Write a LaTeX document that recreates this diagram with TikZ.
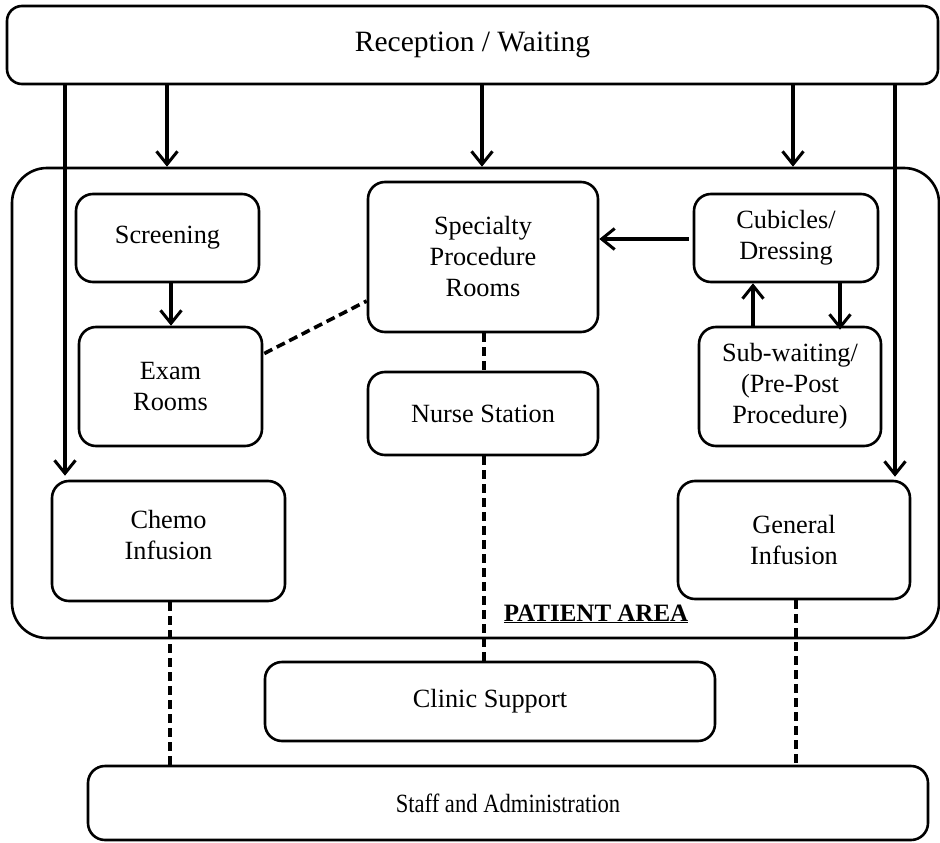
\documentclass[tikz,border=0pt]{standalone}
\usepackage{fontspec}
\setmainfont{Liberation Serif}
\usepackage{graphicx}
\usetikzlibrary{arrows.meta,calc}
\tikzset{
  box/.style={draw, line width=2.6pt, rounded corners=17pt, align=center, inner sep=0pt,
    font=\fontsize{26.3}{31}\selectfont},
  arr/.style={line width=3.4pt, -{Straight Barb[length=13pt,width=21pt,line width=3pt]}},
  dsh/.style={line width=3.6pt, dash pattern=on 9pt off 5pt},
}
\begin{document}
\begin{tikzpicture}[x=1pt,y=-1pt]
\useasboundingbox (0,0) rectangle (940,843);
\fill[white] (0,0) rectangle (940,843);
% big patient area
\node[box, rounded corners=35pt, minimum width=927pt, minimum height=470pt] (pa) at (475.5,403) {};
\node[font=\fontsize{25}{28}\selectfont\bfseries] (palabel) at (596,614) {\underline{PATIENT AREA}};
% boxes
\node[box, rounded corners=15pt, minimum width=931pt, minimum height=78pt, font=\fontsize{29.5}{31}\selectfont] (rec) at (472.5,45) {Reception / Waiting};
\node[box, minimum width=183pt, minimum height=88pt] (scr) at (167.5,238) {Screening};
\node[box, minimum width=183pt, minimum height=119pt] (exam) at (170.5,386.5) {Exam\\Rooms};
\node[box, minimum width=230pt, minimum height=150pt] (spec) at (483,257) {Specialty\\Procedure\\Rooms};
\node[box, minimum width=230pt, minimum height=83pt] (nurse) at (483,413.5) {Nurse Station};
\node[box, minimum width=184pt, minimum height=88pt] (cub) at (786,238) {Cubicles/\\Dressing};
\node[box, minimum width=182pt, minimum height=119pt] (sub) at (790,386.5) {Sub-waiting/\\(Pre-Post\\Procedure)};
\node[box, minimum width=233pt, minimum height=120pt] (chemo) at (168.5,541) {Chemo\\Infusion\\[-18pt]};
\node[box, minimum width=232pt, minimum height=118pt] (gen) at (794,540) {General\\Infusion};
\node[box, minimum width=450pt, minimum height=79pt] (clinic) at (490,701.5) {Clinic Support};
\node[box, minimum width=840pt, minimum height=74pt] (staff) at (508,803) {\scalebox{0.86}[1]{Staff and Administration}};
% x positions of connectors
\coordinate (x167) at (167,0);
\coordinate (x482) at (482,0);
\coordinate (x793) at (793,0);
\coordinate (x65) at (65,0);
\coordinate (x895) at (895,0);
\coordinate (x171) at (171,0);
\coordinate (x753) at (753,0);
\coordinate (x840) at (840,0);
\coordinate (x484) at (484,0);
\coordinate (x170) at (170,0);
\coordinate (x796) at (796,0);
% arrows
\draw[arr] (rec.south -| x167) -- (pa.north -| x167);
\draw[arr] (rec.south -| x482) -- (pa.north -| x482);
\draw[arr] (rec.south -| x793) -- (pa.north -| x793);
\draw[arr] (rec.south -| x65) -- ($(chemo.north -| x65)+(0,-4)$);
\draw[arr] (rec.south -| x895) -- ($(gen.north -| x895)+(0,-3)$);
\draw[arr] (scr.south -| x171) -- (exam.north -| x171);
\draw[arr] ($(cub.west)+(-4,1)$) -- ($(spec.east |- cub.west)+(0,1)$);
\draw[arr] (sub.north -| x753) -- (cub.south -| x753);
\draw[arr] (cub.south -| x840) -- ($(sub.north -| x840)+(0,4)$);
% dashed links
\draw[dsh] ($(exam.east)+(1,-33)$) -- ($(spec.west)+(0,44)$);
\draw[dsh] (spec.south -| x484) -- (nurse.north -| x484);
\draw[dsh] (nurse.south -| x484) -- (clinic.north -| x484);
\draw[dsh] (chemo.south -| x170) -- (staff.north -| x170);
\draw[dsh] (gen.south -| x796) -- (staff.north -| x796);
\end{tikzpicture}
\end{document}
